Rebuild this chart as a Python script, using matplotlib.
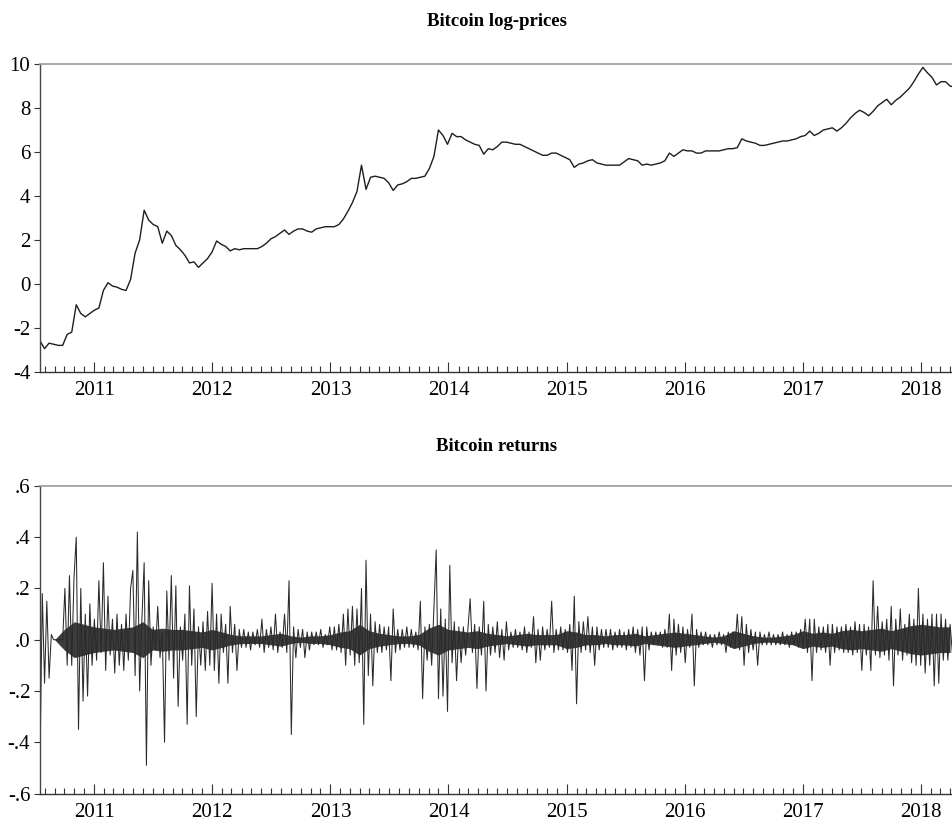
"""
Bitcoin log-prices and returns, EViews-style two-panel chart.
"""
import numpy as np
import pandas as pd
import matplotlib
matplotlib.use('Agg')
import matplotlib.pyplot as plt
import matplotlib.dates as mdates

plt.rcParams['font.family'] = ['Liberation Serif', 'DejaVu Serif']
plt.rcParams['axes.unicode_minus'] = False

START = '2010-07-18'
END = '2018-04-10'

# ── Data ────────────────────────────────────────────────────────────
# log-price, one reading every two weeks
log_price = [
    -2.6, -2.95, -2.7, -2.75, -2.8, -2.8, -2.3, -2.2, -0.95, -1.35,
    -1.5, -1.35, -1.2, -1.1, -0.3, 0.05, -0.1, -0.15, -0.25, -0.3,
    0.2, 1.4, 2.0, 3.35, 2.9, 2.7, 2.6, 1.85, 2.4, 2.2,
    1.75, 1.55, 1.3, 0.95, 1.0, 0.75, 0.95, 1.15, 1.45, 1.95,
    1.8, 1.7, 1.5, 1.6, 1.55, 1.6, 1.6, 1.6, 1.6, 1.7,
    1.85, 2.05, 2.15, 2.3, 2.45, 2.25, 2.4, 2.5, 2.5, 2.4,
    2.35, 2.5, 2.55, 2.6, 2.6, 2.6, 2.7, 2.95, 3.3, 3.7,
    4.2, 5.4, 4.3, 4.85, 4.9, 4.85, 4.8, 4.6, 4.25, 4.5,
    4.55, 4.65, 4.8, 4.8, 4.85, 4.9, 5.25, 5.8, 7.0, 6.75,
    6.35, 6.85, 6.7, 6.7, 6.55, 6.45, 6.35, 6.3, 5.9, 6.15,
    6.1, 6.25, 6.45, 6.45, 6.4, 6.35, 6.35, 6.25, 6.15, 6.05,
    5.95, 5.85, 5.85, 5.95, 5.95, 5.85, 5.75, 5.65, 5.3, 5.45,
    5.5, 5.6, 5.65, 5.5, 5.45, 5.4, 5.4, 5.4, 5.4, 5.55,
    5.7, 5.65, 5.6, 5.4, 5.45, 5.4, 5.45, 5.5, 5.6, 5.95,
    5.8, 5.95, 6.1, 6.05, 6.05, 5.95, 5.95, 6.05, 6.05, 6.05,
    6.05, 6.1, 6.15, 6.15, 6.2, 6.6, 6.5, 6.45, 6.4, 6.3,
    6.3, 6.35, 6.4, 6.45, 6.5, 6.5, 6.55, 6.6, 6.7, 6.75,
    6.95, 6.75, 6.85, 7.0, 7.05, 7.1, 6.95, 7.1, 7.3, 7.55,
    7.75, 7.9, 7.8, 7.65, 7.85, 8.1, 8.25, 8.4, 8.15, 8.35,
    8.5, 8.7, 8.9, 9.2, 9.55, 9.85, 9.6, 9.4, 9.05, 9.2,
    9.2, 9.0, 8.95,
]

# returns, one reading per week (the visible spikes)
returns = [
    -0.47, 0.18, -0.17, 0.15, -0.15, 0.02, 0.0, 0.0, 0.0, 0.0,
    0.0, 0.20, -0.10, 0.25, -0.10, 0.24, 0.40, -0.35, 0.20, -0.24,
    0.10, -0.22, 0.14, -0.10, 0.08, -0.08, 0.23, -0.05, 0.30, -0.12,
    0.17, -0.06, 0.08, -0.13, 0.10, -0.10, 0.06, -0.12, 0.10, -0.08,
    0.20, 0.27, -0.14, 0.42, -0.20, 0.08, 0.30, -0.49, 0.23, -0.10,
    0.05, -0.04, 0.13, -0.07, 0.03, -0.40, 0.19, -0.08, 0.25, -0.15,
    0.21, -0.26, 0.05, -0.08, 0.10, -0.33, 0.21, -0.10, 0.12, -0.30,
    0.05, -0.10, 0.07, -0.12, 0.11, -0.10, 0.22, -0.12, 0.10, -0.17,
    0.10, -0.05, 0.06, -0.17, 0.13, -0.05, 0.06, -0.12, 0.04, -0.03,
    0.04, -0.03, 0.03, -0.04, 0.03, -0.02, 0.04, -0.03, 0.08, -0.05,
    0.04, -0.03, 0.05, -0.04, 0.10, -0.05, 0.03, -0.03, 0.10, -0.05,
    0.23, -0.37, 0.05, -0.07, 0.04, -0.03, 0.04, -0.07, 0.03, -0.04,
    0.03, -0.02, 0.03, -0.02, 0.04, -0.03, 0.02, -0.02, 0.05, -0.04,
    0.05, -0.04, 0.06, -0.05, 0.10, -0.10, 0.12, -0.06, 0.13, -0.10,
    0.12, -0.09, 0.20, -0.33, 0.31, -0.14, 0.10, -0.18, 0.07, -0.05,
    0.06, -0.05, 0.05, -0.04, 0.05, -0.16, 0.12, -0.05, 0.04, -0.04,
    0.04, -0.03, 0.05, -0.03, 0.04, -0.03, 0.03, -0.04, 0.15, -0.23,
    0.05, -0.08, 0.06, -0.10, 0.12, 0.35, -0.23, 0.12, -0.22, 0.08,
    -0.28, 0.29, -0.09, 0.07, -0.16, 0.05, -0.09, 0.05, -0.06, 0.04,
    0.16, -0.05, 0.06, -0.19, 0.05, -0.06, 0.15, -0.20, 0.06, -0.06,
    0.05, -0.05, 0.07, -0.07, 0.04, -0.08, 0.07, -0.04, 0.03, -0.03,
    0.04, -0.03, 0.03, -0.04, 0.05, -0.05, 0.03, -0.03, 0.09, -0.09,
    0.04, -0.08, 0.05, -0.04, 0.04, -0.03, 0.15, -0.05, 0.04, -0.04,
    0.05, -0.04, 0.04, -0.05, 0.06, -0.12, 0.17, -0.25, 0.07, -0.05,
    0.07, -0.04, 0.09, -0.05, 0.05, -0.10, 0.05, -0.04, 0.04, -0.03,
    0.04, -0.03, 0.04, -0.04, 0.03, -0.03, 0.04, -0.03, 0.03, -0.04,
    0.04, -0.03, 0.05, -0.05, 0.04, -0.06, 0.05, -0.16, 0.05, -0.04,
    0.03, -0.02, 0.03, -0.02, 0.03, -0.03, 0.04, -0.03, 0.10, -0.12,
    0.08, -0.06, 0.06, -0.05, 0.05, -0.09, 0.04, -0.03, 0.10, -0.18,
    0.04, -0.03, 0.03, -0.02, 0.03, -0.02, 0.02, -0.03, 0.02, -0.02,
    0.03, -0.02, 0.02, -0.05, 0.03, -0.03, 0.03, -0.03, 0.10, -0.04,
    0.09, -0.10, 0.06, -0.05, 0.04, -0.04, 0.03, -0.10, 0.03, -0.02,
    0.02, -0.02, 0.03, -0.02, 0.02, -0.02, 0.02, -0.02, 0.03, -0.02,
    0.02, -0.03, 0.03, -0.02, 0.03, -0.03, 0.04, -0.03, 0.08, -0.05,
    0.08, -0.16, 0.08, -0.05, 0.05, -0.04, 0.05, -0.05, 0.06, -0.10,
    0.06, -0.05, 0.05, -0.04, 0.05, -0.05, 0.06, -0.05, 0.05, -0.06,
    0.07, -0.05, 0.06, -0.12, 0.06, -0.06, 0.05, -0.12, 0.23, -0.06,
    0.13, -0.07, 0.07, -0.06, 0.08, -0.08, 0.13, -0.18, 0.08, -0.06,
    0.12, -0.08, 0.06, -0.06, 0.10, -0.09, 0.08, -0.10, 0.20, -0.10,
    0.10, -0.13, 0.08, -0.10, 0.10, -0.18, 0.10, -0.17, 0.10, -0.08,
    0.08, -0.08, 0.06, -0.05,
]

# half-width of the dense black core of daily returns, one per month (Jul 2010 - Apr 2018)
core_band = [
    0.0, 0.0, 0.0, 0.04, 0.07, 0.06,                                           # 2010
    0.05, 0.045, 0.04, 0.045, 0.05, 0.07, 0.04, 0.045, 0.04, 0.04, 0.035, 0.03,  # 2011
    0.04, 0.03, 0.02, 0.015, 0.015, 0.015, 0.02, 0.025, 0.015, 0.01, 0.015, 0.015,  # 2012
    0.02, 0.03, 0.035, 0.06, 0.035, 0.025, 0.02, 0.015, 0.015, 0.02, 0.045, 0.06,   # 2013
    0.04, 0.035, 0.03, 0.035, 0.025, 0.02, 0.015, 0.02, 0.025, 0.02, 0.02, 0.02,   # 2014
    0.035, 0.03, 0.02, 0.02, 0.015, 0.02, 0.02, 0.025, 0.015, 0.02, 0.025, 0.03,   # 2015
    0.025, 0.02, 0.015, 0.01, 0.015, 0.035, 0.025, 0.015, 0.01, 0.01, 0.015, 0.02,  # 2016
    0.035, 0.025, 0.03, 0.025, 0.035, 0.04, 0.035, 0.04, 0.045, 0.035, 0.045, 0.055,  # 2017
    0.06, 0.055, 0.05, 0.05,                                                   # 2018
]

price_ticks  = [-4, -2, 0, 2, 4, 6, 8, 10]
price_labels = ['-4', '-2', '0', '2', '4', '6', '8', '10']
ret_ticks    = [-0.6, -0.4, -0.2, 0.0, 0.2, 0.4, 0.6]
ret_labels   = ['-.6', '-.4', '-.2', '.0', '.2', '.4', '.6']
years        = list(range(2011, 2019))

price_dates = pd.date_range(START, periods=len(log_price), freq='14D')
ret_dates   = pd.date_range(START, periods=len(returns), freq='7D')
band_dates  = pd.date_range('2010-07-18', periods=len(core_band), freq='MS')
band_dates  = band_dates.insert(0, pd.Timestamp(START))[:len(core_band)]
band        = np.array(core_band)

# ── Figure ──────────────────────────────────────────────────────────
fig = plt.figure(figsize=(9.53, 8.27), dpi=100)
ax1 = fig.add_axes([0.042, 0.5505, 0.958, 0.372])
ax2 = fig.add_axes([0.042, 0.0405, 0.958, 0.372])

ax1.plot(price_dates, log_price, color='#1e1e1e', lw=1.0)

ax2.fill_between(band_dates, -band, band, color='#1a1a1a', lw=0, alpha=0.85)
ax2.plot(ret_dates, returns, color='#2a2a2a', lw=0.75)

ax1.set_ylim(-4, 10)
ax1.set_yticks(price_ticks)
ax1.set_yticklabels(price_labels)
ax2.set_ylim(-0.6, 0.6)
ax2.set_yticks(ret_ticks)
ax2.set_yticklabels(ret_labels)

for ax in (ax1, ax2):
    ax.set_xlim(pd.Timestamp(START), pd.Timestamp(END))
    ax.set_xticks([pd.Timestamp(f'{y}-01-01') for y in years])
    ax.set_xticklabels([str(y) for y in years])
    ax.xaxis.set_minor_locator(mdates.MonthLocator())
    ax.tick_params(axis='x', which='major', direction='in', length=7,
                   width=0.8, pad=7, labelsize=15, color='#333333')
    ax.tick_params(axis='x', which='minor', direction='in', length=4,
                   width=0.8, color='#333333')
    ax.tick_params(axis='y', direction='out', length=4, width=0.8,
                   pad=3, labelsize=15, color='#333333')
    ax.spines['right'].set_visible(False)
    ax.spines['top'].set_color('#999999')
    ax.spines['top'].set_linewidth(1.2)
    ax.spines['left'].set_color('#444444')
    ax.spines['bottom'].set_color('#333333')
    for sp in ('left', 'bottom'):
        ax.spines[sp].set_linewidth(1.0)

fig.text(0.521, 0.9734, 'Bitcoin log-prices', ha='center', va='center',
         fontsize=13.5, fontweight='bold')
fig.text(0.521, 0.4607, 'Bitcoin returns', ha='center', va='center',
         fontsize=13.5, fontweight='bold')

fig.savefig('out.png', dpi=100)
